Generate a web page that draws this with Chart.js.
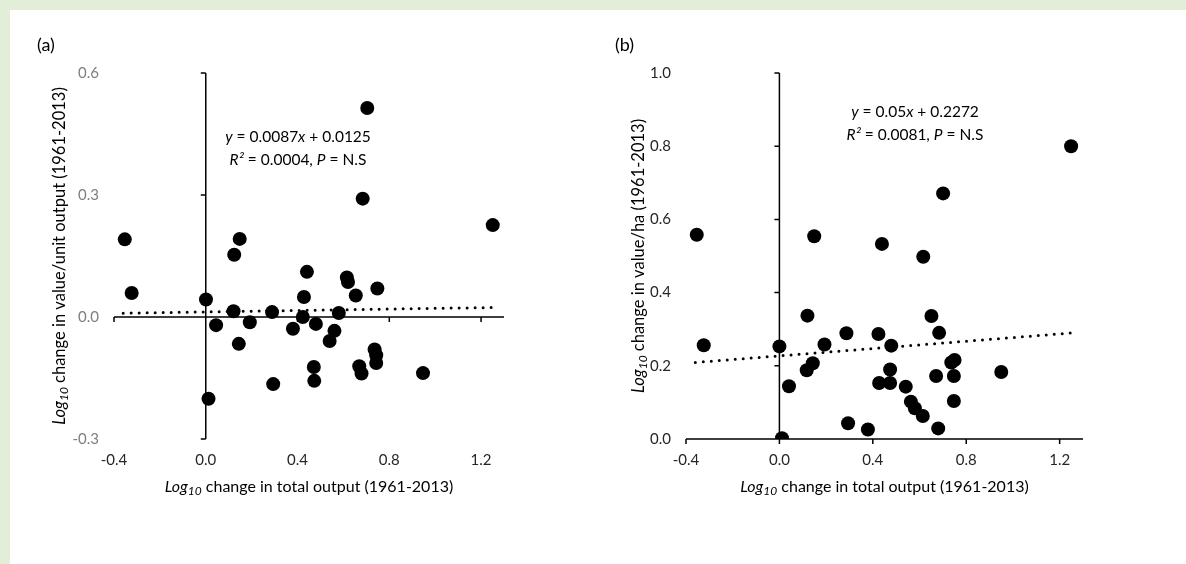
<!DOCTYPE html>
<html>
<head>
<meta charset="utf-8">
<script src="https://cdn.jsdelivr.net/npm/chart.js@4/dist/chart.umd.min.js"></script>
<style>
  html, body { margin: 0; padding: 0; }
  body { width: 1186px; height: 564px; background: #e3eed9; position: relative; overflow: hidden; }
  #panel { position: absolute; left: 10px; top: 10px; right: 0; bottom: 0; background: #ffffff; }
  .box { position: absolute; top: 0; width: 593px; height: 564px; }
  #boxA { left: 0; }
  #boxB { left: 593px; }
</style>
</head>
<body>
<div id="panel"></div>
<div class="box" id="boxA"><canvas id="chartA"></canvas></div>
<div class="box" id="boxB"><canvas id="chartB"></canvas></div>
<script>
// (a) log10 change in total output vs log10 change in value/unit output
let outputA = [-0.353, -0.323, 0.001, 0.012, 0.045, 0.121, 0.124, 0.144, 0.148, 0.192,
    0.289, 0.294, 0.380, 0.423, 0.428, 0.441, 0.471, 0.473, 0.480, 0.540,
    0.561, 0.580, 0.615, 0.620, 0.654, 0.669, 0.679, 0.684, 0.704, 0.736,
    0.743, 0.743, 0.748, 0.947, 1.251];
let valueUnitA = [0.191, 0.059, 0.043, -0.201, -0.020, 0.014, 0.153, -0.066, 0.192, -0.013,
    0.012, -0.165, -0.029, 0.000, 0.049, 0.111, -0.123, -0.157, -0.017, -0.059,
    -0.034, 0.010, 0.097, 0.086, 0.053, -0.121, -0.139, 0.291, 0.514, -0.080,
    -0.094, -0.113, 0.070, -0.138, 0.226];

// (b) log10 change in total output vs log10 change in value/ha
let outputB = [-0.354, -0.324, 0.000, 0.011, 0.041, 0.117, 0.120, 0.143, 0.149, 0.193,
    0.287, 0.294, 0.379, 0.424, 0.427, 0.439, 0.474, 0.474, 0.479, 0.541,
    0.563, 0.580, 0.614, 0.616, 0.651, 0.671, 0.680, 0.684, 0.701, 0.736,
    0.747, 0.747, 0.750, 0.950, 1.249];
let valueHaB = [0.558, 0.256, 0.253, 0.002, 0.144, 0.188, 0.337, 0.207, 0.554, 0.258,
    0.289, 0.043, 0.026, 0.287, 0.153, 0.533, 0.190, 0.153, 0.255, 0.143,
    0.102, 0.084, 0.063, 0.498, 0.336, 0.172, 0.029, 0.290, 0.671, 0.209,
    0.172, 0.104, 0.216, 0.183, 0.800];

// trend line end points (data range of x)
let trendXA = [-0.36, 1.25];
let trendYA = [0.0094, 0.0234];
let trendXB = [-0.36, 1.25];
let trendYB = [0.2092, 0.2897];

let xTicks = [-0.4, 0.0, 0.4, 0.8, 1.2];
let yTicksA = [-0.3, 0.0, 0.3, 0.6];
let yTicksB = [0.0, 0.2, 0.4, 0.6, 0.8, 1.0];

let fontFamily = "Lato, 'Open Sans', sans-serif";

function toPoints(xs, ys) {
    let points = [];
    for (let i = 0; i < xs.length; i++) {
        points.push({x: xs[i], y: ys[i]});
    }
    return points;
}

function drawMixed(ctx, parts, x, y, size) {
    // parts: [text, italic, sub]
    let fontOf = p => (p[1] ? "italic " : "") + (p[2] ? Math.round(size * 0.72) : size) + "px " + fontFamily;
    let widths = [];
    let total = 0;
    for (let p of parts) {
        ctx.font = fontOf(p);
        let w = ctx.measureText(p[0]).width;
        widths.push(w);
        total += w;
    }
    let start = x - total / 2;
    ctx.textAlign = "left";
    ctx.textBaseline = "middle";
    for (let i = 0; i < parts.length; i++) {
        let p = parts[i];
        ctx.font = fontOf(p);
        ctx.fillText(p[0], start, y + (p[2] ? 4 : 0));
        start += widths[i];
    }
}

let axesPlugin = {
    id: "crossAxes",
    afterDatasetsDraw(chart, args, opts) {
        let ctx = chart.ctx;
        let xs = chart.scales.x;
        let ys = chart.scales.y;
        let area = chart.chartArea;
        let x0 = xs.getPixelForValue(0);
        let y0 = ys.getPixelForValue(0);
        ctx.save();
        ctx.strokeStyle = "#000000";
        ctx.lineWidth = 1.5;
        ctx.beginPath();
        ctx.moveTo(x0, area.top);
        ctx.lineTo(x0, area.bottom);
        ctx.moveTo(area.left, y0);
        ctx.lineTo(area.right, y0);
        for (let t of opts.yTicks) {
            let py = ys.getPixelForValue(t);
            ctx.moveTo(x0 - 5, py);
            ctx.lineTo(x0, py);
        }
        for (let t of opts.xTicks) {
            let px = xs.getPixelForValue(t);
            ctx.moveTo(px, y0);
            ctx.lineTo(px, y0 + 5);
        }
        ctx.stroke();

        ctx.fillStyle = "#000000";
        // panel letter
        ctx.font = "18px " + fontFamily;
        ctx.textAlign = "left";
        ctx.textBaseline = "middle";
        ctx.fillText(opts.letter, opts.letterX, 45);

        // x axis title
        let cx = (area.left + area.right) / 2;
        drawMixed(ctx, [["Log", true, false], ["10", true, true], [" change in total output (1961-2013)", false, false]], cx, 487, 16);

        // y axis title
        ctx.save();
        ctx.translate(opts.yTitleX, (area.top + area.bottom) / 2);
        ctx.rotate(-Math.PI / 2);
        drawMixed(ctx, [["Log", true, false], ["10", true, true], [opts.yTitle, false, false]], 0, 0, 16.5);
        ctx.restore();

        // equation
        drawMixed(ctx, opts.eq1, opts.eqX, opts.eqY, 15.5);
        drawMixed(ctx, opts.eq2, opts.eqX, opts.eqY + 23, 15.5);
        ctx.restore();
    }
};

function makeChart(canvasId, xData, yData, trendX, trendY, yMin, yMax, yTicks, yColor, pad, yWidth, extra) {
    let ctx = document.getElementById(canvasId).getContext("2d");
    return new Chart(ctx, {
        type: "scatter",
        data: {
            datasets: [{
                data: toPoints(xData, yData),
                backgroundColor: "#000000",
                borderWidth: 0,
                pointRadius: 7,
                pointHoverRadius: 7
            }, {
                type: "line",
                data: toPoints(trendX, trendY),
                borderColor: "#000000",
                borderWidth: 3,
                borderDash: [0, 8],
                borderCapStyle: "round",
                pointRadius: 0,
                fill: false
            }]
        },
        options: {
            responsive: false,
            animation: false,
            events: [],
            layout: {padding: pad},
            plugins: {
                legend: {display: false},
                tooltip: {enabled: false},
                crossAxes: Object.assign({xTicks: xTicks, yTicks: yTicks}, extra)
            },
            scales: {
                x: {
                    type: "linear",
                    min: -0.4,
                    max: 1.3,
                    afterBuildTicks: s => { s.ticks = xTicks.map(v => ({value: v})); },
                    afterFit: s => { s.height = 125; },
                    grid: {display: false, drawTicks: false},
                    border: {display: false},
                    ticks: {
                        padding: 12,
                        color: "#262626",
                        font: {family: fontFamily, size: 15},
                        callback: v => v.toFixed(1)
                    }
                },
                y: {
                    type: "linear",
                    min: yMin,
                    max: yMax,
                    afterBuildTicks: s => { s.ticks = yTicks.map(v => ({value: v})); },
                    afterFit: s => { s.width = yWidth; },
                    grid: {display: false, drawTicks: false},
                    border: {display: false},
                    ticks: {
                        padding: 15,
                        color: yColor,
                        font: {family: fontFamily, size: 15},
                        callback: v => v.toFixed(1)
                    }
                }
            }
        },
        plugins: [axesPlugin]
    });
}

function sizeCanvas(id) {
    let c = document.getElementById(id);
    c.width = 593;
    c.height = 564;
    c.style.width = "593px";
    c.style.height = "564px";
}

sizeCanvas("chartA");
sizeCanvas("chartB");

makeChart("chartA", outputA, valueUnitA, trendXA, trendYA, -0.3, 0.6, yTicksA, "#7f7f7f",
    {left: 0, right: 89, top: 73, bottom: 0}, 114, {
        letter: "(a)", letterX: 37, yTitleX: 60,
        yTitle: " change in value/unit output (1961-2013)",
        eqX: 298, eqY: 137,
        eq1: [["y", true, false], [" = 0.0087", false, false], ["x", true, false], [" + 0.0125", false, false]],
        eq2: [["R\u00b2", true, false], [" = 0.0004, ", false, false], ["P", true, false], [" = N.S", false, false]]
    });

makeChart("chartB", outputB, valueHaB, trendXB, trendYB, 0, 1.0, yTicksB, "#262626",
    {left: 0, right: 103, top: 73, bottom: 0}, 93, {
        letter: "(b)", letterX: 22, yTitleX: 46,
        yTitle: " change in value/ha (1961-2013)",
        eqX: 322, eqY: 112,
        eq1: [["y", true, false], [" = 0.05", false, false], ["x", true, false], [" + 0.2272", false, false]],
        eq2: [["R\u00b2", true, false], [" = 0.0081, ", false, false], ["P", true, false], [" = N.S", false, false]]
    });
</script>
</body>
</html>
